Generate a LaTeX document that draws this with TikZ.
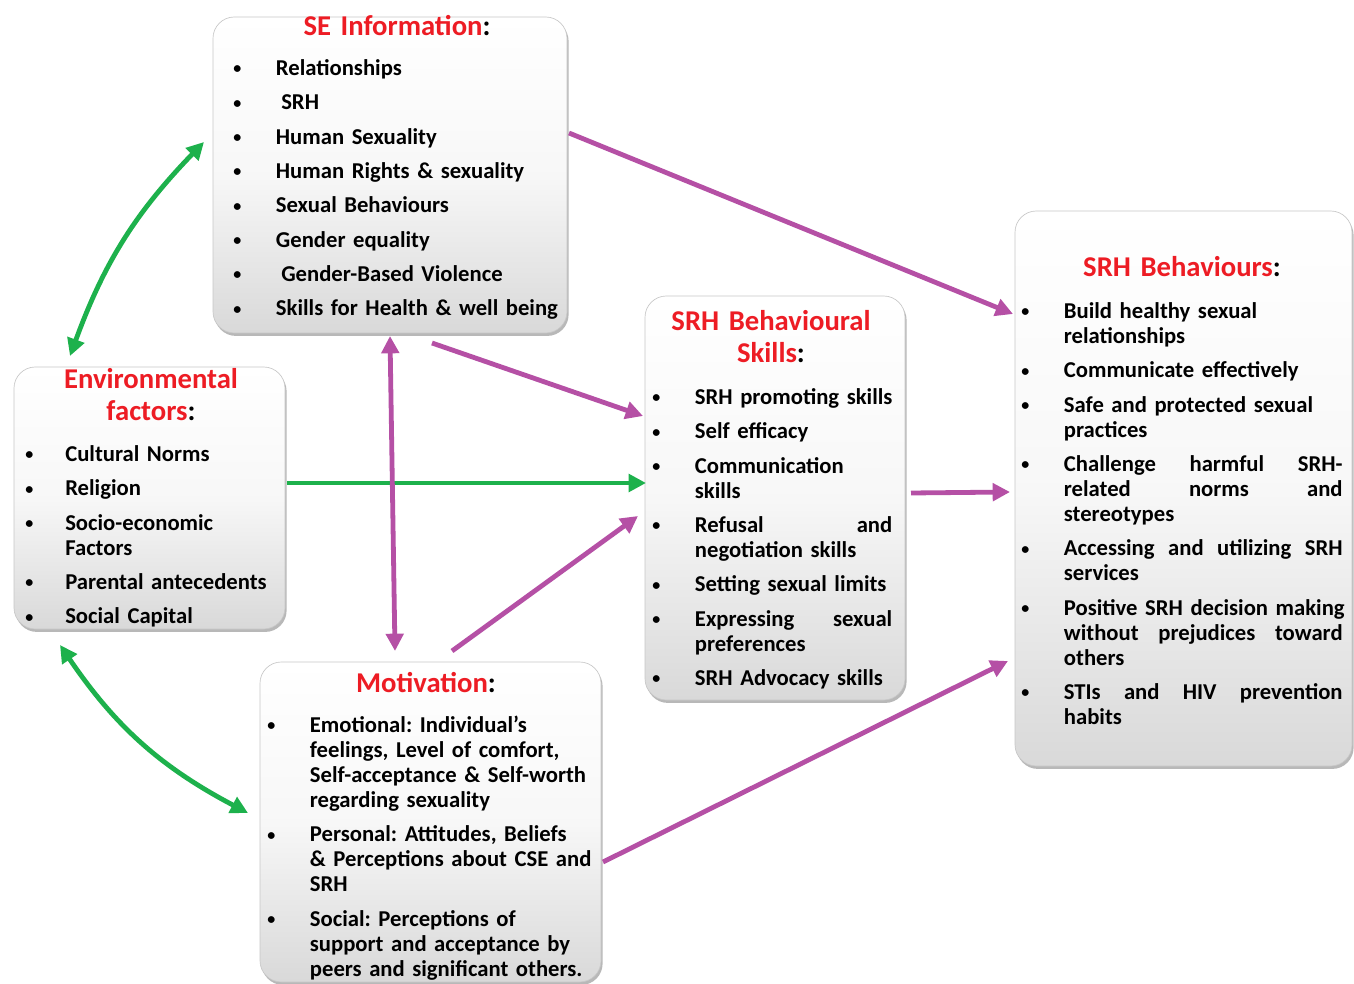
\documentclass[tikz,border=0pt]{standalone}
\usepackage{fontspec}
\setmainfont{Carlito}
\usetikzlibrary{arrows.meta,shadows,fit}
\definecolor{tred}{RGB}{237,28,36}
\definecolor{tgreen}{RGB}{29,177,76}
\definecolor{tpurple}{RGB}{181,80,165}
\newcommand{\smallbul}{\raisebox{1.3pt}{\fontsize{12}{12}\selectfont\textbullet}}
\newenvironment{blist}[1]{\begin{list}{\smallbul}{\setlength{\leftmargin}{#1}\setlength{\labelwidth}{#1}\setlength{\labelsep}{0pt}\setlength{\itemsep}{7pt}\setlength{\parsep}{0pt}\setlength{\topsep}{0pt}\setlength{\partopsep}{0pt}\renewcommand{\makelabel}[1]{##1\hfil}}}{\end{list}}
\newcommand{\sline}[2]{\leavevmode\makebox[#1][l]{#2}}
\begin{document}
\begin{tikzpicture}[x=0.75pt,y=-0.75pt,
 >={Triangle[length=13pt,width=13pt]},
 box/.style={draw=black!22, line width=0.5pt, rounded corners=16pt, top color=white, bottom color=black!15, middle color=white!97!black, inner sep=0pt, drop shadow={shadow xshift=1.2pt, shadow yshift=-2.2pt, opacity=0.5, fill=black!55}},
 ttl/.style={anchor=base, text width=#1, align=center, inner sep=0pt, font=\fontsize{21.5}{24}\selectfont\bfseries\frenchspacing},
 lst/.style={anchor=base west, text width=#1, align=left, inner sep=0pt, font=\fontsize{17}{18.75}\selectfont\bfseries\frenchspacing},
 garr/.style={draw=tgreen, line width=3.6pt},
 parr/.style={draw=tpurple, line width=3.6pt}]
\useasboundingbox (0,0) rectangle (1354,984);
\fill[white] (0,0) rectangle (1354,984);
% boxes
\node[box, fit={(213,17) (567,333)}] (se) {};
\node[box, fit={(14,367) (285,629)}] (env) {};
\node[box, fit={(645,296) (905,700)}] (skills) {};
\node[box, fit={(1015,211) (1352,766)}] (beh) {};
\node[box, fit={(260,662) (601,982)}] (mot) {};
% titles
\node[ttl=250pt] (se-t) at (397,36) {\textcolor{tred}{SE Information}:};
\node[ttl=190pt] (env-t) at (151,389) {\textcolor{tred}{Environmental}\\\textcolor{tred}{factors}:};
\node[ttl=190pt] (skills-t) at (771,331) {\textcolor{tred}{SRH Behavioural}\\\textcolor{tred}{Skills}:};
\node[ttl=240pt] (beh-t) at (1182,277) {\textcolor{tred}{SRH Behaviours}:};
\node[ttl=240pt] (mot-t) at (426,692) {\textcolor{tred}{Motivation}:};
% lists
\node[lst=245pt] (se-l) at (233,50.5) {\begin{blist}{32pt}
\item Relationships
\item \hspace{4pt}SRH
\item Human Sexuality
\item Human Rights \& sexuality
\item Sexual Behaviours
\item Gender equality
\item \hspace{4pt}Gender-Based Violence
\item Skills for Health \& well being
\end{blist}};
\node[lst=188pt] (env-l) at (25,436.5) {\begin{blist}{30pt}
\item Cultural Norms
\item Religion
\item Socio-economic\\Factors
\item Parental antecedents
\item Social Capital
\end{blist}};
\node[lst=182pt] (skills-l) at (652,379.5) {\begin{blist}{32pt}
\item SRH promoting skills
\item Self efficacy
\item Communication\\skills
\item \sline{148pt}{Refusal\hfill and}\\negotiation skills
\item Setting sexual limits
\item \sline{148pt}{Expressing\hfill sexual}\\preferences
\item SRH Advocacy skills
\end{blist}};
\node[lst=241.5pt] (beh-l) at (1021,293.5) {\begin{blist}{32pt}
\item Build healthy sexual\\relationships
\item Communicate effectively
\item Safe and protected sexual\\practices
\item \sline{209pt}{Challenge\hfill harmful\hfill SRH-}\\\sline{209pt}{related\hfill norms\hfill and}\\stereotypes
\item \sline{209pt}{Accessing\hfill and\hfill utilizing\hfill SRH}\\services
\item \sline{209pt}{Positive SRH decision making}\\\sline{209pt}{without\hfill prejudices\hfill toward}\\others
\item \sline{209pt}{STIs\hfill and\hfill HIV\hfill prevention}\\habits
\end{blist}};
\node[lst=248pt] (mot-l) at (267,707.5) {\begin{blist}{32pt}
\item Emotional: Individual’s\\feelings, Level of comfort,\\Self-acceptance \& Self-worth\\regarding sexuality
\item Personal: Attitudes, Beliefs\\\& Perceptions about CSE and\\SRH
\item Social: Perceptions of\\support and acceptance by\\peers and significant others.
\end{blist}};
% connector end points
\coordinate (g1a) at (70,356); \coordinate (g1b) at (204,142);
\coordinate (g2a) at (60,645); \coordinate (g2b) at (248,813);
\coordinate (g3a) at (287,483); \coordinate (g3b) at (646,483);
\coordinate (p1a) at (390,336); \coordinate (p1b) at (395,651);
\coordinate (p2a) at (432,343); \coordinate (p2b) at (643,416);
\coordinate (p3a) at (452,651); \coordinate (p3b) at (638,516);
\coordinate (p4a) at (569,133); \coordinate (p4b) at (1013,314);
\coordinate (p5a) at (911,493); \coordinate (p5b) at (1010,492);
\coordinate (p6a) at (603,862); \coordinate (p6b) at (1008,661);
% connectors
\draw[garr,<->] (g1a) to[bend left=12] (g1b);
\draw[garr,<->] (g2a) to[bend right=14] (g2b);
\draw[garr,->] (g3a) -- (g3b);
\draw[parr,<->] (p1a) -- (p1b);
\draw[parr,->] (p2a) -- (p2b);
\draw[parr,->] (p3a) -- (p3b);
\draw[parr,->] (p4a) -- (p4b);
\draw[parr,->] (p5a) -- (p5b);
\draw[parr,->] (p6a) -- (p6b);
\end{tikzpicture}
\end{document}
